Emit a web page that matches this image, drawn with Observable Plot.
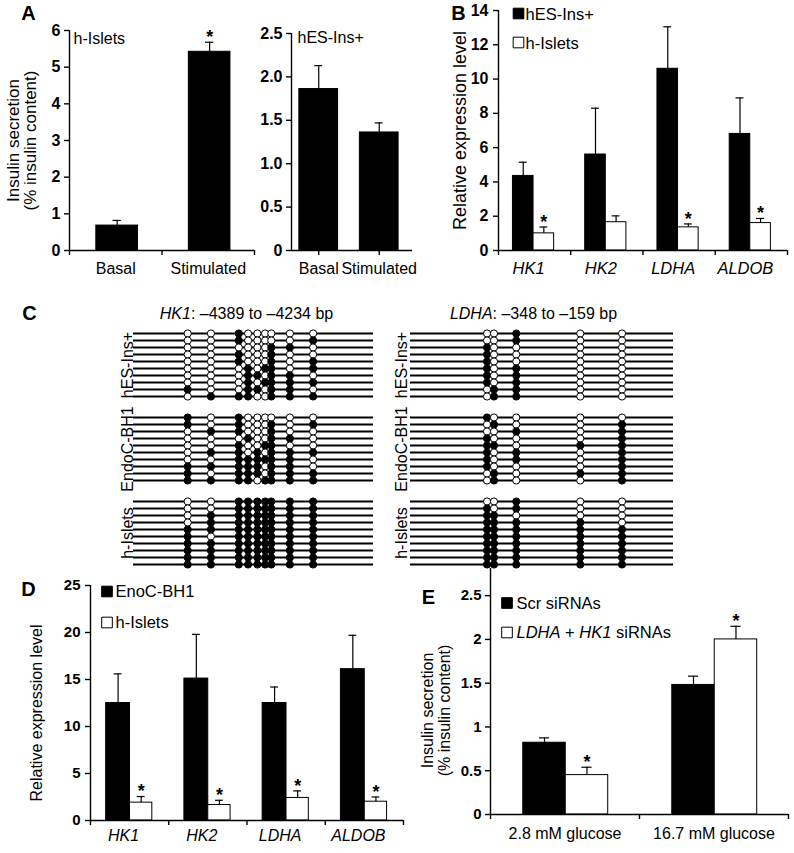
<!DOCTYPE html>
<html><head><meta charset="utf-8">
<script src="https://cdn.jsdelivr.net/npm/d3@7"></script>
<script src="https://cdn.jsdelivr.net/npm/@observablehq/plot@0.6"></script>
<style>
html,body{margin:0;padding:0;background:#fff;}
#fig{position:relative;width:794px;height:853px;overflow:hidden;}
#fig svg{position:absolute;left:0;top:0;}
</style></head><body><div id="fig"></div>
<script>
// ---------- Panel A data ----------
const aCategories = ["Basal", "Stimulated"];
const aIsletMeans = [0.68, 5.42];
const aIsletErrors = [0.14, 0.26];
const aIsletSig = [false, true];
const aEsMeans = [1.86, 1.36];
const aEsErrors = [0.27, 0.11];
const aYTicksLeft = [0, 1, 2, 3, 4, 5, 6];
const aYTicksRight = [0, 0.5, 1, 1.5, 2, 2.5];

// ---------- Panel B data ----------
const bGenes = ["HK1", "HK2", "LDHA", "ALDOB"];
const bEsMeans = [4.35, 5.6, 10.6, 6.8];
const bEsErrors = [0.8, 2.7, 2.45, 2.1];
const bIsletMeans = [1.0, 1.65, 1.35, 1.6];
const bIsletErrors = [0.37, 0.37, 0.2, 0.27];
const bIsletSig = [true, false, true, true];
const bYTicks = [0, 2, 4, 6, 8, 10, 12, 14];

// ---------- Panel C data (1 = methylated, 0 = unmethylated) ----------
const cSamples = ["hES-Ins+", "EndoC-BH1", "h-Islets"];
const hk1Range = [-4389, -4234];
const hk1Sites = [-4354, -4339, -4321, -4315, -4309, -4304, -4300, -4288, -4273];
const hk1HesRows = ["001000000","001000001","000000110","001000100","001000101","000101101","000110110","000101111","100110110","011100111"];
const hk1EndoRows = ["101000000","101000101","011000100","000100110","001001100","011010111","001111110","111110110","101110111","111101111"];
const hk1IsletRows = ["001111111","001111111","011111111","011111111","111111111","101111111","111111111","111111111","111111111","111111111"];
const ldhaRange = [-348, -159];
const ldhaSites = [-293, -288, -272, -226, -196];
const ldhaHesRows = ["00100","00100","10000","10000","10000","10100","10100","10100","01100","01100"];
const ldhaEndoRows = ["10000","01001","00101","10001","11011","10101","10101","10001","01011","01001"];
const ldhaIsletRows = ["00100","10100","11000","11110","11111","11111","11111","11111","11111","11111"];

// ---------- Panel D data ----------
const dGenes = ["HK1", "HK2", "LDHA", "ALDOB"];
const dEndoMeans = [12.5, 15.1, 12.5, 16.1];
const dEndoErrors = [3.1, 4.7, 1.7, 3.6];
const dIsletMeans = [1.9, 1.65, 2.4, 2.0];
const dIsletErrors = [0.65, 0.5, 0.75, 0.5];
const dIsletSig = [true, true, true, true];
const dYTicks = [0, 5, 10, 15, 20, 25];

// ---------- Panel E data ----------
const eConditions = ["2.8 mM glucose", "16.7 mM glucose"];
const eScrMeans = [0.82, 1.48];
const eScrErrors = [0.055, 0.1];
const eKdMeans = [0.45, 2.0];
const eKdErrors = [0.09, 0.15];
const eKdSig = [true, true];
const eYTicks = [0, 0.5, 1, 1.5, 2, 2.5];

// ---------- helpers ----------
const W = 794, H = 853;
const FONT = "'Liberation Sans', Arial, Helvetica, sans-serif";
function box(x0, x1, y0, y1) {
  return {width: W, height: H, marginLeft: x0, marginRight: W - x1, marginTop: y0, marginBottom: H - y1};
}
function draw(opts) {
  const svg = Plot.plot({...opts, style: {background: "none", overflow: "visible", fontFamily: FONT, color: "black"}});
  document.getElementById("fig").appendChild(svg);
  return svg;
}
function note(text, o) {
  return Plot.text([text], {frameAnchor: "top-left", textAnchor: "start", lineAnchor: "middle", ...o});
}
function letter(text, dx, dy) {
  return Plot.text([text], {frameAnchor: "top-left", textAnchor: "middle", lineAnchor: "middle", dx, dy, fontSize: 20, fontWeight: "bold"});
}
function swatch(fill, dx, dy) {
  return Plot.dot([0], {frameAnchor: "top-left", dx, dy, symbol: "square", r: 6, fill, stroke: "black", strokeWidth: 1});
}
function yTitle(text, dx, size, dy = 0) {
  return Plot.text([text], {frameAnchor: "left", textAnchor: "middle", lineAnchor: "middle", dx, dy, rotate: -90, fontSize: size});
}
function italicize(svg, full, parts) {
  for (const t of svg.querySelectorAll("text")) {
    if (t.textContent === full) {
      t.textContent = "";
      t.style.whiteSpace = "pre";
      for (const [s, it] of parts) {
        const ts = document.createElementNS("http://www.w3.org/2000/svg", "tspan");
        ts.textContent = s;
        if (it) ts.setAttribute("font-style", "italic");
        t.appendChild(ts);
      }
    }
  }
}

function barPanel(cfg) {
  const n = cfg.categories.length;
  const rows = [];
  cfg.series.forEach(s => s.means.forEach((v, i) => rows.push({
    x1: i + s.from, x2: i + s.to, xc: i + (s.from + s.to) / 2,
    v, top: v + s.errors[i], sig: s.sig ? s.sig[i] : false, fill: s.fill
  })));
  const [fx0, fx1, fy0, fy1] = cfg.frame;
  const marks = [
    Plot.rectY(rows, {x1: "x1", x2: "x2", y1: 0, y2: "v", fill: d => d.fill, stroke: "black", strokeWidth: 1}),
    Plot.ruleX(rows, {x: "xc", y1: "v", y2: "top", stroke: "black", strokeWidth: 1.2}),
    Plot.ruleY(rows, {y: "top", x1: d => d.xc - cfg.cap, x2: d => d.xc + cfg.cap, stroke: "black", strokeWidth: 1.2}),
    Plot.text(rows.filter(d => d.sig), {x: "xc", y: "top", text: () => "*", dy: -5, fontSize: 18, fontWeight: "bold"}),
    Plot.ruleX([0], {y1: cfg.yDomain[0], y2: cfg.yDomain[1], stroke: "black", strokeWidth: 1.4}),
    Plot.ruleY([cfg.yDomain[0]], {x1: 0, x2: n, stroke: "black", strokeWidth: 1.4}),
    Plot.axisY({ticks: cfg.yTicks, tickFormat: cfg.yFormat, tickSize: 5, tickPadding: cfg.tickPadding ?? 4,
      fontSize: cfg.tickFontSize ?? 15, fontWeight: "bold", label: null, strokeWidth: 1.4}),
    Plot.axisX({ticks: cfg.xTicks, tickSize: 5, tickFormat: () => "", label: null, strokeWidth: 1.4}),
    Plot.text(cfg.categories, {x: (d, i) => i + (cfg.labelAt ?? 0.5), frameAnchor: "bottom", lineAnchor: "middle",
      textAnchor: "middle", dy: cfg.labelDy, dx: cfg.labelDx ?? 0, fontSize: cfg.labelSize ?? 16,
      fontStyle: cfg.labelStyle ?? "normal"}),
    ...(cfg.extra || [])
  ];
  return draw({...box(fx0, fx1, fy0, fy1), x: {domain: [0, n]}, y: {domain: cfg.yDomain}, color: {type: "identity"}, marks});
}

function methPanel(cfg) {
  const [fx0, fx1, fy0, fy1] = cfg.frame;
  const cells = [], rowIdx = [];
  cfg.blocks.forEach((block, b) => block.forEach((pattern, r) => {
    const idx = b * 12 + r;
    rowIdx.push(idx);
    [...pattern].forEach((c, k) => cells.push({pos: cfg.sites[k], idx, m: c === "1"}));
  }));
  const marks = [
    Plot.ruleY(rowIdx, {y: d => d, x1: cfg.range[0], x2: cfg.range[1], stroke: "black", strokeWidth: 1.8}),
    Plot.dot(cells, {x: "pos", y: "idx", r: 3.6, fill: d => d.m ? "black" : "white", stroke: "black", strokeWidth: 1}),
    Plot.text(cSamples, {y: (d, b) => b * 12 + 4.5, frameAnchor: "left", textAnchor: "middle", lineAnchor: "middle",
      dx: cfg.labelDx, rotate: -90, fontSize: 16}),
    Plot.text([cfg.title], {frameAnchor: "top", textAnchor: "middle", lineAnchor: "middle", dx: cfg.titleDx, dy: -20, fontSize: 16}),
    ...(cfg.extra || [])
  ];
  return draw({...box(fx0, fx1, fy0, fy1), x: {domain: cfg.range, axis: null},
    y: {domain: [0, 33], reverse: true, axis: null}, color: {type: "identity"}, marks});
}

// ---------- Panel A ----------
barPanel({
  frame: [69, 254, 30, 250], categories: aCategories, yDomain: [0, 6], yTicks: aYTicksLeft, yFormat: d => String(d),
  xTicks: [0, 1, 2], cap: 0.045, labelDy: 18, labelSize: 16, tickFontSize: 16,
  series: [{means: aIsletMeans, errors: aIsletErrors, sig: aIsletSig, fill: "black", from: 0.29, to: 0.74}],
  extra: [
    letter("A", -41, -17),
    note("h-Islets", {dx: 4, dy: 8, fontSize: 16}),
    yTitle("Insulin secretion", -56, 17),
    yTitle("(% insulin content)", -39, 17)
  ]
});
barPanel({
  frame: [291, 412, 33, 250], categories: aCategories, yDomain: [0, 2.5], yTicks: aYTicksRight,
  yFormat: d => d === 0 ? "0" : d.toFixed(1), xTicks: [0.45, 1.45], cap: 0.065, labelAt: 0.45, labelDy: 18,
  labelSize: 16, tickFontSize: 16,
  series: [{means: aEsMeans, errors: aEsErrors, fill: "black", from: 0.13, to: 0.77}],
  extra: [note("hES-Ins+", {dx: 6, dy: 4, fontSize: 16})]
});

// ---------- Panel B ----------
barPanel({
  frame: [498, 787, 10, 250], categories: bGenes, yDomain: [0, 14], yTicks: bYTicks, yFormat: d => String(d),
  xTicks: [0, 1, 2, 3, 4], cap: 0.055, labelDy: 18, labelDx: -6, labelSize: 16.5, labelStyle: "italic",
  tickFontSize: 16, tickPadding: 5,
  series: [
    {means: bEsMeans, errors: bEsErrors, fill: "black", from: 0.2, to: 0.485},
    {means: bIsletMeans, errors: bIsletErrors, sig: bIsletSig, fill: "white", from: 0.485, to: 0.77}
  ],
  extra: [
    letter("B", -40, 3),
    swatch("black", 20, 3), note("hES-Ins+", {dx: 27, dy: 4, fontSize: 16.5}),
    swatch("white", 20, 32), note("h-Islets", {dx: 27, dy: 33, fontSize: 16.5}),
    yTitle("Relative expression level", -38, 18)
  ]
});

// ---------- Panel C ----------
const cLeft = methPanel({
  frame: [133, 373, 333, 564], range: hk1Range, sites: hk1Sites, blocks: [hk1HesRows, hk1EndoRows, hk1IsletRows],
  labelDx: -6, title: "HK1: –4389 to –4234 bp", titleDx: -7,
  extra: [letter("C", -104, -20)]
});
italicize(cLeft, "HK1: –4389 to –4234 bp", [["HK1", true], [": –4389 to –4234 bp", false]]);
const cRight = methPanel({
  frame: [410, 673, 333, 564], range: ldhaRange, sites: ldhaSites, blocks: [ldhaHesRows, ldhaEndoRows, ldhaIsletRows],
  labelDx: -9, title: "LDHA: –348 to –159 bp", titleDx: -8.5
});
italicize(cRight, "LDHA: –348 to –159 bp", [["LDHA", true], [": –348 to –159 bp", false]]);

// ---------- Panel D ----------
barPanel({
  frame: [90, 403, 585, 820], categories: dGenes, yDomain: [0, 25], yTicks: dYTicks, yFormat: d => String(d),
  xTicks: [0, 1, 2, 3, 4], cap: 0.05, labelDy: 15, labelDx: -6, labelSize: 16, labelStyle: "italic",
  tickFontSize: 15, tickPadding: 5,
  series: [
    {means: dEndoMeans, errors: dEndoErrors, fill: "black", from: 0.2, to: 0.505},
    {means: dIsletMeans, errors: dIsletErrors, sig: dIsletSig, fill: "white", from: 0.505, to: 0.79}
  ],
  extra: [
    letter("D", -62, 4),
    swatch("black", 16.5, 6), note("EnoC-BH1", {dx: 25, dy: 6, fontSize: 16.5}),
    swatch("white", 16.5, 37), note("h-Islets", {dx: 25, dy: 37, fontSize: 16.5}),
    yTitle("Relative expression level", -54, 16, 10)
  ]
});

// ---------- Panel E ----------
const eSvg = barPanel({
  frame: [490, 788, 568, 814], categories: eConditions, yDomain: [0, 2.81], yTicks: eYTicks, yFormat: d => String(d),
  xTicks: [0, 1, 2], cap: 0.034, labelDy: 19, labelSize: 16, tickFontSize: 15,
  series: [
    {means: eScrMeans, errors: eScrErrors, fill: "black", from: 0.22, to: 0.505},
    {means: eKdMeans, errors: eKdErrors, sig: eKdSig, fill: "white", from: 0.505, to: 0.79}
  ],
  extra: [
    letter("E", -62, 29),
    swatch("black", 16.5, 34.5), note("Scr siRNAs", {dx: 26, dy: 35, fontSize: 16.5}),
    swatch("white", 16.5, 64), note("LDHA + HK1 siRNAs", {dx: 26, dy: 64, fontSize: 16.5}),
    yTitle("Insulin secretion", -63, 16, 19),
    yTitle("(% insulin content)", -46, 16, 19)
  ]
});
italicize(eSvg, "LDHA + HK1 siRNAs", [["LDHA", true], [" + ", false], ["HK1", true], [" siRNAs", false]]);
</script></body></html>
